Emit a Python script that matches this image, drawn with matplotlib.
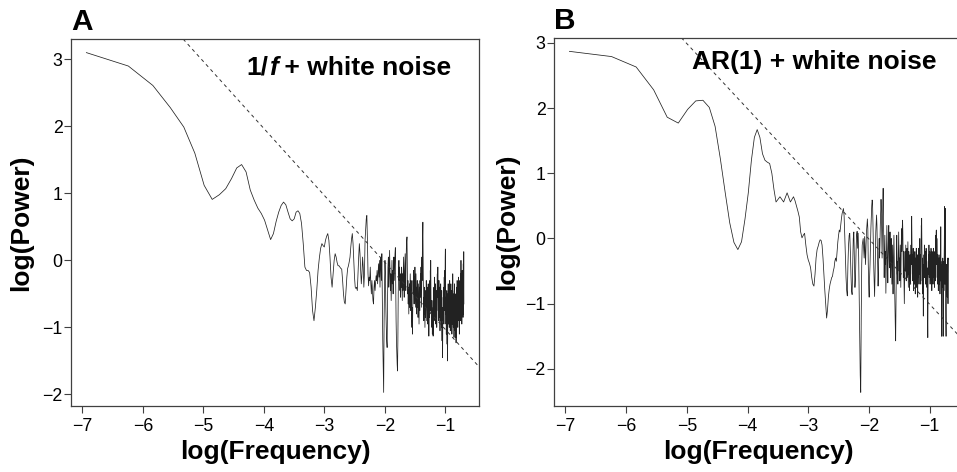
import numpy as np
import matplotlib.pyplot as plt

plt.rcParams['font.family'] = ['Liberation Sans', 'DejaVu Sans']

# periodogram of a 1024-point series: power at frequencies k/1024, k = 1..512
n_series = 1024

# log(Power), panel A (1/f + white noise)
power_a = [
    3.10, 2.90, 2.61, 2.28, 1.99, 1.60, 1.12, 0.91, 0.98, 1.07,
    1.22, 1.38, 1.43, 1.32, 1.05, 0.90, 0.78, 0.70, 0.60, 0.45,
    0.31, 0.40, 0.58, 0.72, 0.82, 0.87, 0.83, 0.72, 0.62, 0.59,
    0.62, 0.72, 0.74, 0.70, 0.55, 0.25, -0.10, -0.15, -0.15, -0.18,
    -0.40, -0.75, -0.90, -0.70, -0.45, -0.15, 0.04, 0.18, 0.25, 0.22,
    0.20, 0.30, 0.36, 0.40, 0.30, 0.05, -0.25, -0.40, -0.20, 0.00,
    0.10, 0.05, -0.03, -0.08, -0.08, -0.10, -0.12, -0.13, -0.30, -0.50,
    -0.62, -0.65, -0.45, -0.25, -0.12, -0.08, -0.02, 0.05, 0.20, 0.32,
    0.40, 0.25, 0.00, -0.25, -0.40, -0.42, -0.40, -0.45, -0.20, 0.05,
    0.25, 0.10, -0.15, -0.35, -0.20, 0.05, -0.10, -0.40, -0.20, 0.30,
    0.45, 0.62, 0.67, 0.30, -0.20, -0.38, -0.25, -0.30, -0.10, -0.35,
    -0.50, -0.30, -0.45, -0.60, -0.65, -0.40, -0.30, -0.45, -0.35, -0.23,
    -0.30, -0.15, -0.35, -0.20, -0.05, -0.25, 0.00, -0.40, -0.10, 0.05,
    -0.30, 0.10, -0.60, -1.20, -1.60, -1.97, -0.90, -0.35, 0.00, -0.20,
    -0.70, -1.00, -1.20, -1.30, -0.60, -0.10, 0.05, -0.40, -0.20, 0.15,
    -0.15, -0.45, -0.20, -0.60, -0.30, 0.00, -0.35, -0.15, -0.50, -0.10,
    0.05, -0.30, -0.10, 0.10, 0.19, -0.40, -0.90, -1.20, -1.40, -1.55,
    -1.65, -1.20, -0.50, -0.20, 0.00, -0.30, -0.10, -0.45, -0.20, -0.55,
    -0.25, -0.40, -0.10, -0.35, -0.60, -0.20, -0.45, -0.15, 0.05, -0.30,
    -0.55, -0.20, -0.05, 0.10, -0.25, -0.45, 0.00, 0.20, 0.30, 0.35,
    -0.10, -0.50, -0.30, -0.65, -0.40, -0.80, -0.55, -0.35, -0.70, -0.45,
    -0.20, -0.50, -0.75, -0.30, -0.60, -0.85, -1.00, -0.70, -1.10, -0.60,
    -0.30, -0.50, -0.15, -0.40, -0.65, -0.25, -0.50, -0.10, -0.35, -0.70,
    -0.45, -0.20, -0.55, -0.80, -0.40, -0.60, -0.30, -0.70, -0.50, -0.85,
    -0.55, -0.35, -0.65, -0.95, -0.60, -0.40, -0.75, -0.30, -0.55, -0.20,
    -0.45, -0.10, -0.40, -0.70, -0.25, 0.05, -0.30, 0.20, 0.40, 0.57,
    0.10, -0.35, -0.60, -0.90, -0.55, -0.80, -0.40, -0.65, -1.00, -0.70,
    -0.50, -0.85, -0.45, -0.70, -0.30, -0.55, -0.90, -0.60, -0.40, -0.75,
    -0.50, -0.95, -0.65, -0.35, -0.80, -0.55, -1.13, -0.70, -0.45, -0.85,
    -0.60, -0.30, -0.75, -0.15, -0.45, 0.00, -0.50, -0.80, -0.60, -0.90,
    -0.70, -1.00, -0.80, -1.10, -0.85, -0.60, -0.95, -1.13, -0.75, -0.50,
    -0.70, -0.40, -0.85, -0.55, -0.25, -0.65, -0.90, -0.50, -0.75, -0.35,
    -0.60, -0.95, -0.70, -0.45, -0.80, -0.55, -1.00, -0.65, -0.40, -0.20,
    -0.55, -0.35, -0.10, -0.50, -0.75, -0.45, -0.90, -0.60, -0.30, -0.70,
    -0.50, -0.85, -0.40, -0.65, -1.05, -0.75, -0.55, -0.90, -0.35, -0.60,
    -0.80, -0.50, -1.00, -0.70, -0.45, -0.85, -1.20, -0.95, -1.30, -1.45,
    -1.10, -0.70, -0.90, -0.55, -0.80, -0.40, -0.65, -0.95, -0.50, -0.25,
    -0.60, -0.35, -0.75, -0.15, -0.45, 0.05, 0.17, -0.40, -0.80, -0.55,
    -0.95, -0.70, -1.10, -0.60, -0.85, -0.45, -1.00, -1.25, -0.75, -1.40,
    -1.50, -0.90, -0.50, -0.75, -0.35, -0.65, -0.95, -0.55, -0.80, -0.40,
    -0.70, -1.00, -0.60, -0.85, -0.30, -0.55, -0.90, -0.65, -1.05, -0.75,
    -0.50, -0.80, -0.35, -0.60, -0.95, -0.70, -0.45, -0.85, -0.55, -1.10,
    -0.80, -0.60, -0.95, -0.40, -0.70, -0.20, -0.55, -0.85, -0.65, -1.00,
    -0.75, -0.50, -0.90, -0.60, -1.15, -0.80, -0.45, -0.70, -0.35, -0.65,
    -0.95, -0.55, -0.85, -1.05, -0.70, -0.50, -0.90, -1.15, -0.80, -1.23,
    -0.95, -0.60, -0.85, -0.40, -0.70, -0.55, -0.95, -0.30, -0.60, -0.80,
    -0.50, -0.75, -1.00, -0.65, -0.40, -0.85, -0.55, -0.25, -0.70, -0.45,
    -0.90, -0.60, -0.35, -0.75, -1.10, -0.70, -0.50, -0.80, -0.30, -0.60,
    -0.85, -0.45, -0.70, -0.20, -0.55, -0.90, -0.35, 0.00, -0.40, -0.75,
    -0.50, -0.85, -0.30, -0.60, -0.95, -0.40, -0.70, -0.15, -0.50, -0.80,
    -0.35, -0.65, -0.20, -0.55, -0.85, -0.30, -0.05, -0.50, -0.80, -0.40,
    0.13, -0.65,
]

# log(Power), panel B (AR(1) + white noise)
power_b = [
    2.87, 2.79, 2.63, 2.28, 1.86, 1.77, 1.98, 2.11, 2.12, 2.01,
    1.72, 1.22, 0.70, 0.24, -0.06, -0.17, -0.05, 0.30, 0.70, 1.20,
    1.55, 1.67, 1.55, 1.30, 1.20, 1.17, 1.15, 1.00, 0.75, 0.56,
    0.60, 0.64, 0.60, 0.56, 0.63, 0.70, 0.63, 0.56, 0.60, 0.64,
    0.58, 0.50, 0.42, 0.33, 0.10, 0.01, 0.05, 0.08, -0.10, -0.25,
    -0.33, -0.38, -0.45, -0.60, -0.70, -0.73, -0.55, -0.30, -0.17, -0.12,
    -0.06, -0.02, -0.03, -0.10, -0.30, -0.55, -0.80, -1.00, -1.22, -1.10,
    -0.90, -0.78, -0.70, -0.65, -0.60, -0.58, -0.50, -0.45, -0.35, -0.30,
    -0.35, -0.20, -0.05, 0.05, 0.13, 0.10, 0.20, 0.30, 0.38, 0.42,
    0.46, 0.35, 0.05, -0.30, -0.60, -0.80, -0.88, -0.40, -0.10, 0.05,
    0.08, -0.20, -0.55, -0.80, -0.86, -0.40, 0.00, 0.10, -0.30, -0.75,
    -0.60, -0.20, 0.05, 0.11, -0.15, 0.08, -0.30, -0.90, -1.60, -2.10,
    -2.36, -1.20, -0.40, -0.10, -0.05, 0.00, -0.17, -0.30, 0.03, -0.20,
    -0.40, -0.10, 0.10, 0.20, 0.30, 0.15, -0.40, -0.75, -0.90, -0.60,
    -0.40, -0.10, 0.15, 0.35, 0.50, 0.59, 0.55, 0.20, -0.20, -0.45,
    -0.70, -0.89, -0.60, -0.20, 0.10, 0.25, 0.36, 0.20, -0.10, -0.45,
    -0.73, -0.50, -0.20, 0.00, -0.30, -0.10, 0.20, 0.40, 0.60, 0.45,
    0.10, -0.30, 0.20, 0.55, 0.77, 0.40, -0.20, -0.60, -0.30, 0.05,
    -0.40, -0.20, -0.84, -0.50, -0.10, 0.20, -0.15, -0.40, -0.68, -0.30,
    0.05, 0.20, -0.20, -0.45, -0.10, 0.10, -0.30, -0.60, -0.20, 0.00,
    -0.40, -0.70, -0.35, -0.10, -0.50, -0.85, -0.40, -0.15, 0.05, -0.30,
    -0.60, -0.90, -1.20, -1.40, -1.57, -1.10, -0.50, -0.20, 0.05, -0.25,
    -0.55, -0.35, -0.70, -0.45, -0.15, 0.10, -0.20, -0.50, -0.30, -0.65,
    -0.40, -0.10, -0.45, -0.75, -0.35, -0.05, 0.15, -0.20, 0.05, 0.20,
    0.28, 0.10, -0.30, -0.60, -0.20, -0.45, -0.80, -1.00, -0.70, -0.40,
    -0.20, -0.50, -0.30, -0.10, -0.40, -0.65, -0.25, -0.50, -0.15, -0.35,
    -0.60, -0.30, -0.05, -0.40, -0.75, -0.45, -0.20, -0.55, -0.30, -0.80,
    -0.50, -0.25, -0.60, -0.35, -0.70, -0.45, -0.10, -0.40, 0.10, 0.34,
    0.05, -0.30, -0.55, -0.25, -0.65, -0.40, -0.15, -0.50, -0.80, -0.35,
    -0.60, -0.30, -0.70, -0.45, -0.20, -0.55, -0.85, -0.50, -0.30, -0.65,
    -0.40, -0.15, -0.50, -0.75, -0.35, -0.60, -0.25, -0.45, -0.90, -0.55,
    -0.30, -0.60, -0.40, -0.15, -0.50, -0.70, -0.35, -0.55, -0.20, 0.00,
    -0.30, -0.55, -0.25, -0.45, -0.70, -0.40, 0.05, 0.20, 0.10, 0.31,
    0.00, -0.40, -0.65, -0.30, -0.55, -0.85, -0.50, -0.95, -1.19, -0.70,
    -0.40, -0.60, -0.25, -0.45, -0.10, -0.35, -0.60, -0.30, -0.50, -0.20,
    -0.45, -0.70, -0.35, -0.55, -0.15, -0.40, -0.65, -0.30, -0.50, -0.75,
    -0.45, -0.85, -1.10, -1.30, -1.52, -1.00, -0.60, -0.35, -0.55, -0.25,
    -0.45, -0.10, -0.35, -0.60, -0.30, -0.50, -0.20, -0.40, -0.70, -0.45,
    -0.25, -0.55, -0.35, -0.60, -0.15, -0.40, -0.65, -0.30, -0.50, -0.80,
    -0.45, -0.20, -0.55, -0.35, -0.60, -0.25, -0.45, -0.70, -0.40, -0.15,
    -0.50, -0.30, -0.60, -0.35, -0.55, -0.25, -0.45, -0.75, -0.40, -0.20,
    -0.55, -0.35, -0.65, -0.30, -0.50, -0.15, 0.05, -0.30, 0.10, 0.13,
    -0.20, 0.00, -0.40, 0.00, -0.35, -0.60, -0.30, -0.50, -0.25, -0.70,
    -0.40, -0.55, -0.30, -0.80, -0.45, -0.65, -0.35, -0.55, -0.25, -0.50,
    -0.70, -0.40, -0.60, -0.30, -0.55, -0.85, -0.45, -0.65, -0.35, -0.55,
    -0.20, 0.18, -0.30, -0.60, -0.40, -0.70, -1.00, -1.30, -1.50, -0.90,
    -0.55, -0.35, -0.60, -0.40, -0.75, -0.50, -0.30, -0.65, -1.20, -1.50,
    -0.80, -0.45, -0.65, -0.35, -0.55, -0.80, -0.45, -0.25, -0.10, 0.20,
    0.49, 0.00, -0.40, -0.70, -0.45, -0.60, -0.30, 0.46, -0.20, -0.80,
    -1.10, -1.40, -1.50, -0.90, -0.60, -0.40, -0.70, -0.50, -0.85, -0.60,
    -0.40, -0.65, -0.90, -0.55, -0.75, -0.45, -0.30, -0.60, -1.00, -0.70,
    -0.30, -0.32,
]

# dashed reference line: log(Power) = slope * log(Frequency) + intercept
ref_slope = -1.0
ref_intercepts = [-2.03, -2.01]

panel_letters = ['A', 'B']
# (text, style) pieces of the note in each panel
panel_notes = [
    [('1/', 'normal'), ('f', 'italic'), (' + white noise', 'normal')],
    [('AR(1) + white noise', 'normal')],
]
note_pos = [(0.430, 0.902), (0.3365, 0.914)]
ylabel_x = [-0.094, -0.086]

x_ticks = [-7, -6, -5, -4, -3, -2, -1]
y_ticks = [-2, -1, 0, 1, 2, 3]


def r_lims(v):
    # R style axis range: data range plus 4% on each side
    lo, hi = float(np.min(v)), float(np.max(v))
    pad = 0.04 * (hi - lo)
    return lo - pad, hi + pad


fig = plt.figure(figsize=(9.57, 4.72), dpi=100)
ax_a = fig.add_axes([0.0745, 0.1398, 0.4260, 0.7775])
ax_b = fig.add_axes([0.5792, 0.1398, 0.4276, 0.7803])

for ax, power, icpt, letter, note, pos, ylx in zip(
        [ax_a, ax_b], [power_a, power_b], ref_intercepts,
        panel_letters, panel_notes, note_pos, ylabel_x):
    k = np.arange(1, len(power) + 1)
    log_f = np.log(k / n_series)

    ax.plot(log_f, power, color='#222222', lw=0.55)
    ax.axline((log_f[0], icpt + ref_slope * log_f[0]), slope=ref_slope,
              color='#333333', lw=0.7, dashes=(3.5, 3.5))

    ax.set_xlim(r_lims(log_f))
    ax.set_ylim(r_lims(power))
    ax.set_xticks(x_ticks)
    ax.set_yticks(y_ticks)
    ax.tick_params(direction='out', length=4.8, width=0.8, color='#404040',
                   labelsize=12.8)
    ax.tick_params(axis='x', pad=3.5)
    ax.tick_params(axis='y', pad=1.5)
    for sp in ax.spines.values():
        sp.set_color('#404040')
        sp.set_linewidth(0.9)

    ax.set_xlabel('log(Frequency)', fontsize=19, fontweight='bold')
    ax.set_ylabel('log(Power)', fontsize=19, fontweight='bold')
    ax.xaxis.set_label_coords(0.5, -0.092)
    ax.yaxis.set_label_coords(ylx, 0.5)

    ax.text(0.0, 1.024, letter, transform=ax.transAxes, fontsize=21.5,
            fontweight='bold', ha='left', va='baseline')

    # note text, pieces chained so the italic f sits on the same baseline
    prev = None
    for txt, style in note:
        if prev is None:
            prev = ax.text(pos[0], pos[1], txt, transform=ax.transAxes,
                           fontsize=19, fontweight='bold', fontstyle=style,
                           ha='left', va='baseline')
        else:
            prev = ax.annotate(txt, xy=(1, 0), xycoords=prev, fontsize=19,
                               fontweight='bold', fontstyle=style,
                               ha='left', va='bottom')

fig.savefig('out.png', dpi=100)
